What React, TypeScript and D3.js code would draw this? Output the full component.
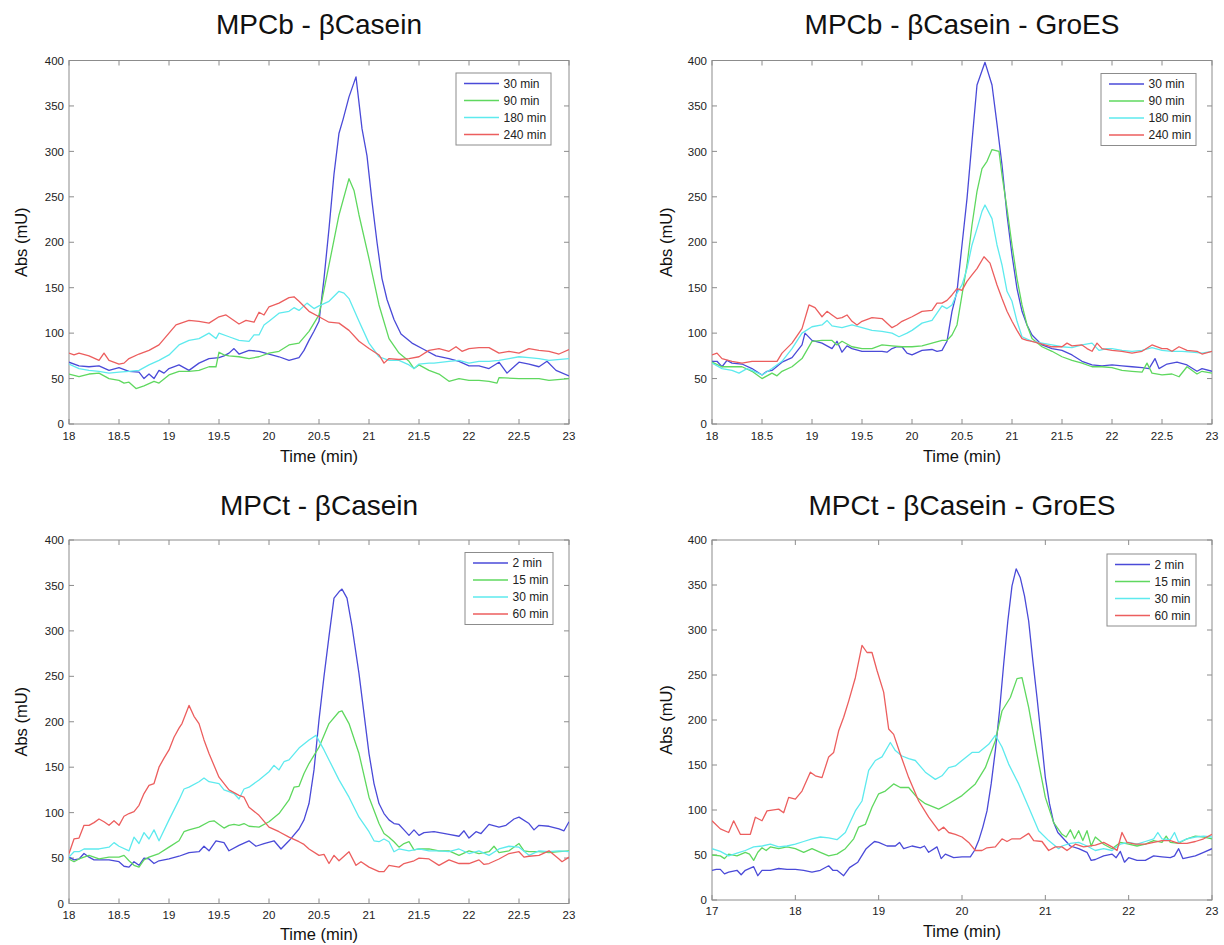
import React from "react";
import * as d3 from "d3";

type Pt = [number, number];

// ---------- text / categories ----------
const TITLES = [
  "MPCb - βCasein",
  "MPCb - βCasein - GroES",
  "MPCt - βCasein",
  "MPCt - βCasein - GroES",
];
const LEGEND_MPCB = ["30 min", "90 min", "180 min", "240 min"];
const LEGEND_MPCT = ["2 min", "15 min", "30 min", "60 min"];
const X_LABEL = "Time (min)";
const Y_LABEL = "Abs (mU)";
const X_TICKS_HALF = [18, 18.5, 19, 19.5, 20, 20.5, 21, 21.5, 22, 22.5, 23];
const X_TICKS_INT = [17, 18, 19, 20, 21, 22, 23];
const Y_TICKS = [0, 50, 100, 150, 200, 250, 300, 350, 400];
const X_DOMAIN_A: [number, number] = [18, 23];
const X_DOMAIN_B: [number, number] = [17, 23];
const Y_DOMAIN: [number, number] = [0, 400];

// ---------- Panel 1: MPCb - βCasein ----------
const P1_30MIN: Pt[] = [[18.0,68],[18.1,64],[18.2,63],[18.3,64],[18.4,59],[18.5,62],[18.6,58],[18.7,57],[18.75,50],[18.8,55],[18.85,50],[18.9,59],[18.95,56],[19.0,61],[19.1,65],[19.2,59],[19.3,67],[19.4,72],[19.5,73],[19.55,75],[19.6,78],[19.65,83],[19.7,77],[19.8,81],[19.9,80],[20.0,77],[20.1,74],[20.2,70],[20.3,73],[20.35,81],[20.4,92],[20.45,102],[20.5,113],[20.55,160],[20.6,215],[20.65,275],[20.7,320],[20.74,335],[20.8,360],[20.87,382],[20.93,325],[20.98,295],[21.03,245],[21.08,200],[21.13,160],[21.18,137],[21.25,115],[21.32,99],[21.43,89],[21.55,82],[21.67,75],[21.8,72],[21.9,69],[22.0,64],[22.1,64],[22.2,61],[22.3,68],[22.38,56],[22.5,68],[22.6,66],[22.7,63],[22.78,69],[22.87,59],[23.0,53]];
const P1_90MIN: Pt[] = [[18.0,55],[18.1,52],[18.2,55],[18.3,56],[18.4,50],[18.5,48],[18.55,45],[18.6,46],[18.67,39],[18.75,42],[18.85,47],[18.9,45],[19.0,54],[19.1,58],[19.2,58],[19.3,59],[19.4,63],[19.47,63],[19.5,79],[19.55,76],[19.6,75],[19.7,74],[19.8,72],[19.9,74],[20.0,78],[20.1,80],[20.2,87],[20.3,89],[20.4,102],[20.5,120],[20.6,175],[20.7,230],[20.8,270],[20.85,257],[20.9,230],[21.0,182],[21.1,131],[21.2,94],[21.3,78],[21.4,69],[21.45,61],[21.5,65],[21.6,59],[21.7,55],[21.8,47],[21.9,50],[22.0,48],[22.1,48],[22.2,47],[22.28,45],[22.3,51],[22.5,50],[22.7,50],[22.8,48],[23.0,50]];
const P1_180MIN: Pt[] = [[18.0,66],[18.1,61],[18.2,59],[18.3,58],[18.4,56],[18.5,57],[18.6,58],[18.7,59],[18.8,65],[18.9,70],[19.0,76],[19.1,87],[19.2,92],[19.3,94],[19.4,100],[19.47,94],[19.5,100],[19.6,96],[19.7,92],[19.8,91],[19.85,98],[19.9,98],[19.95,109],[20.0,113],[20.1,122],[20.2,124],[20.25,128],[20.3,125],[20.38,133],[20.45,127],[20.5,130],[20.6,135],[20.7,146],[20.75,144],[20.8,138],[20.9,113],[21.0,89],[21.1,74],[21.2,70],[21.3,70],[21.4,65],[21.45,61],[21.5,66],[21.6,67],[21.65,67],[21.8,69],[21.9,70],[22.0,67],[22.1,69],[22.2,69],[22.3,70],[22.4,72],[22.5,74],[22.6,73],[22.7,72],[22.8,70],[23.0,72]];
const P1_240MIN: Pt[] = [[18.0,78],[18.05,76],[18.1,78],[18.2,75],[18.3,70],[18.35,78],[18.4,70],[18.5,66],[18.55,67],[18.6,72],[18.7,77],[18.8,81],[18.9,87],[19.0,100],[19.07,109],[19.2,114],[19.3,113],[19.4,111],[19.5,118],[19.57,120],[19.7,110],[19.77,114],[19.85,112],[19.9,123],[19.95,120],[20.0,129],[20.1,133],[20.2,139],[20.25,140],[20.3,135],[20.4,124],[20.5,118],[20.6,112],[20.7,111],[20.8,103],[20.9,91],[21.0,83],[21.1,76],[21.15,67],[21.2,72],[21.3,71],[21.4,72],[21.5,74],[21.6,81],[21.7,83],[21.8,80],[21.87,85],[21.93,80],[22.0,83],[22.1,84],[22.2,84],[22.3,78],[22.4,80],[22.5,78],[22.6,83],[22.7,81],[22.8,80],[22.9,77],[23.0,82]];

// ---------- Panel 2: MPCb - βCasein - GroES ----------
const P2_30MIN: Pt[] = [[18.0,69],[18.05,69],[18.1,63],[18.15,70],[18.2,67],[18.3,66],[18.4,61],[18.5,54],[18.55,58],[18.6,59],[18.7,68],[18.8,73],[18.9,87],[18.93,100],[19.0,92],[19.1,89],[19.2,83],[19.25,91],[19.3,79],[19.35,86],[19.4,83],[19.5,80],[19.6,80],[19.7,80],[19.75,79],[19.8,83],[19.85,85],[19.9,85],[19.95,78],[20.0,76],[20.1,81],[20.2,82],[20.25,80],[20.3,81],[20.35,91],[20.4,124],[20.45,146],[20.5,197],[20.55,248],[20.6,311],[20.65,373],[20.73,398],[20.8,373],[20.85,330],[20.9,285],[20.95,230],[21.0,186],[21.05,149],[21.1,124],[21.15,109],[21.2,98],[21.3,87],[21.4,83],[21.5,81],[21.6,76],[21.7,69],[21.8,65],[21.9,64],[22.0,65],[22.1,64],[22.2,63],[22.3,62],[22.37,61],[22.43,72],[22.47,61],[22.55,66],[22.65,68],[22.75,65],[22.85,58],[22.9,61],[23.0,58]];
const P2_90MIN: Pt[] = [[18.0,68],[18.1,63],[18.2,63],[18.3,63],[18.4,58],[18.5,50],[18.6,56],[18.65,53],[18.7,58],[18.8,63],[18.9,72],[19.0,91],[19.1,92],[19.2,92],[19.25,87],[19.3,91],[19.4,85],[19.5,83],[19.6,83],[19.7,87],[19.8,86],[19.9,85],[20.0,85],[20.1,86],[20.2,89],[20.3,92],[20.35,92],[20.4,98],[20.45,109],[20.5,142],[20.55,175],[20.6,219],[20.65,256],[20.7,281],[20.75,289],[20.8,302],[20.87,300],[20.9,274],[20.95,237],[21.0,197],[21.05,160],[21.1,131],[21.15,109],[21.2,94],[21.3,85],[21.4,80],[21.5,74],[21.6,70],[21.7,67],[21.8,63],[21.9,63],[22.0,62],[22.1,59],[22.2,58],[22.3,57],[22.35,67],[22.4,56],[22.5,54],[22.6,55],[22.67,52],[22.75,63],[22.85,55],[22.9,58],[23.0,56]];
const P2_180MIN: Pt[] = [[18.0,67],[18.1,61],[18.2,59],[18.27,56],[18.35,61],[18.4,59],[18.5,54],[18.6,61],[18.7,69],[18.8,83],[18.9,100],[19.0,107],[19.1,109],[19.15,114],[19.2,108],[19.3,106],[19.4,109],[19.5,106],[19.6,103],[19.7,102],[19.8,100],[19.87,96],[19.95,100],[20.0,103],[20.1,111],[20.2,114],[20.3,130],[20.35,127],[20.4,131],[20.45,144],[20.5,153],[20.55,171],[20.6,197],[20.65,215],[20.7,234],[20.73,241],[20.8,226],[20.85,197],[20.9,175],[20.95,146],[21.0,135],[21.05,113],[21.1,96],[21.2,91],[21.3,89],[21.4,87],[21.5,85],[21.6,84],[21.7,87],[21.8,89],[21.87,81],[21.95,83],[22.0,83],[22.1,81],[22.2,80],[22.3,81],[22.4,84],[22.5,81],[22.6,80],[22.7,80],[22.8,79],[22.9,78],[23.0,80]];
const P2_240MIN: Pt[] = [[18.0,76],[18.05,78],[18.1,72],[18.2,69],[18.3,67],[18.4,69],[18.5,69],[18.6,69],[18.65,69],[18.7,78],[18.8,89],[18.9,105],[18.97,131],[19.03,128],[19.1,118],[19.15,124],[19.2,120],[19.25,116],[19.3,117],[19.35,120],[19.4,113],[19.45,109],[19.5,113],[19.6,117],[19.7,116],[19.8,106],[19.85,109],[19.9,113],[20.0,118],[20.1,124],[20.2,125],[20.25,133],[20.3,133],[20.35,136],[20.4,142],[20.45,149],[20.5,147],[20.55,157],[20.6,164],[20.65,171],[20.72,184],[20.78,177],[20.85,153],[20.9,138],[20.95,124],[21.0,113],[21.05,103],[21.1,94],[21.15,92],[21.2,91],[21.3,88],[21.4,85],[21.5,85],[21.55,89],[21.6,86],[21.7,87],[21.75,83],[21.8,80],[21.85,89],[21.9,83],[22.0,81],[22.1,80],[22.2,78],[22.3,80],[22.4,87],[22.5,83],[22.55,83],[22.6,80],[22.67,85],[22.75,81],[22.85,80],[22.9,77],[23.0,80]];

// ---------- Panel 3: MPCt - βCasein ----------
const P3_2MIN: Pt[] = [[18.0,51],[18.05,48],[18.1,49],[18.15,55],[18.2,51],[18.25,48],[18.3,48],[18.4,48],[18.5,46],[18.55,41],[18.6,40],[18.65,46],[18.7,42],[18.75,50],[18.8,49],[18.85,44],[18.9,47],[19.0,49],[19.1,52],[19.2,56],[19.3,57],[19.35,63],[19.4,58],[19.47,69],[19.55,67],[19.6,58],[19.7,64],[19.8,69],[19.87,63],[19.95,66],[20.05,69],[20.12,60],[20.2,69],[20.3,82],[20.35,92],[20.4,110],[20.45,147],[20.5,202],[20.55,250],[20.6,294],[20.65,336],[20.7,343],[20.73,346],[20.78,336],[20.83,305],[20.9,253],[20.95,209],[21.0,165],[21.05,132],[21.1,110],[21.15,99],[21.2,92],[21.25,88],[21.3,87],[21.35,81],[21.4,75],[21.45,81],[21.5,75],[21.55,78],[21.65,79],[21.8,76],[21.9,74],[21.95,80],[22.0,72],[22.07,79],[22.12,77],[22.2,87],[22.3,84],[22.37,86],[22.45,93],[22.5,95],[22.6,88],[22.65,81],[22.7,86],[22.8,85],[22.9,82],[22.95,80],[23.0,90]];
const P3_15MIN: Pt[] = [[18.0,49],[18.05,46],[18.1,49],[18.2,53],[18.3,49],[18.4,51],[18.5,51],[18.55,53],[18.6,47],[18.65,42],[18.7,40],[18.75,48],[18.8,51],[18.9,55],[19.0,62],[19.1,69],[19.15,79],[19.2,81],[19.3,84],[19.4,90],[19.45,91],[19.5,87],[19.55,83],[19.6,86],[19.65,87],[19.7,86],[19.75,88],[19.8,85],[19.9,84],[20.0,90],[20.1,99],[20.2,114],[20.25,128],[20.3,129],[20.35,143],[20.4,154],[20.5,172],[20.6,198],[20.7,211],[20.73,212],[20.8,198],[20.9,165],[21.0,117],[21.1,88],[21.15,77],[21.2,73],[21.25,68],[21.3,62],[21.35,66],[21.4,68],[21.45,59],[21.5,60],[21.6,60],[21.7,58],[21.8,58],[21.9,53],[22.0,58],[22.1,55],[22.2,57],[22.25,63],[22.3,56],[22.4,58],[22.5,66],[22.55,58],[22.6,57],[22.7,57],[22.8,56],[22.9,57],[23.0,58]];
const P3_30MIN: Pt[] = [[18.0,51],[18.05,57],[18.1,57],[18.15,60],[18.3,60],[18.4,62],[18.45,67],[18.5,63],[18.6,58],[18.65,73],[18.7,66],[18.75,78],[18.8,71],[18.85,81],[18.9,69],[19.0,92],[19.1,114],[19.15,126],[19.2,128],[19.3,134],[19.35,138],[19.4,134],[19.5,132],[19.55,125],[19.6,123],[19.65,121],[19.7,115],[19.75,126],[19.8,128],[19.9,136],[20.0,145],[20.05,152],[20.1,147],[20.15,156],[20.2,158],[20.3,171],[20.4,180],[20.47,185],[20.55,169],[20.6,158],[20.7,136],[20.8,117],[20.9,95],[21.0,79],[21.05,69],[21.1,68],[21.15,71],[21.2,68],[21.25,57],[21.3,60],[21.4,58],[21.5,60],[21.6,58],[21.7,58],[21.8,57],[21.9,60],[22.0,55],[22.1,58],[22.2,53],[22.3,60],[22.4,63],[22.5,62],[22.6,53],[22.7,58],[22.8,57],[22.9,58],[23.0,57]];
const P3_60MIN: Pt[] = [[18.0,55],[18.05,71],[18.1,72],[18.15,86],[18.2,86],[18.25,89],[18.3,93],[18.35,90],[18.4,86],[18.45,91],[18.5,86],[18.55,96],[18.6,99],[18.65,101],[18.7,108],[18.75,121],[18.8,130],[18.85,132],[18.9,150],[18.95,160],[19.0,169],[19.05,183],[19.1,193],[19.13,198],[19.2,218],[19.25,206],[19.3,198],[19.35,180],[19.4,165],[19.5,139],[19.6,125],[19.7,119],[19.75,117],[19.8,106],[19.9,97],[20.0,84],[20.1,79],[20.2,73],[20.3,68],[20.35,65],[20.4,60],[20.5,53],[20.55,54],[20.6,44],[20.65,53],[20.7,47],[20.8,57],[20.87,42],[20.92,46],[21.0,40],[21.1,35],[21.15,35],[21.2,42],[21.3,40],[21.35,44],[21.45,47],[21.5,50],[21.6,49],[21.7,42],[21.8,48],[21.9,44],[22.0,44],[22.1,48],[22.15,43],[22.2,44],[22.3,49],[22.4,55],[22.5,57],[22.55,51],[22.6,52],[22.7,53],[22.8,58],[22.9,49],[22.93,46],[23.0,51]];

// ---------- Panel 4: MPCt - βCasein - GroES ----------
const P4_2MIN: Pt[] = [[17.0,33],[17.05,34],[17.1,34],[17.15,29],[17.2,31],[17.3,33],[17.35,28],[17.4,33],[17.5,37],[17.55,27],[17.6,33],[17.7,33],[17.8,35],[17.9,34],[18.0,34],[18.1,33],[18.2,31],[18.3,33],[18.4,38],[18.45,33],[18.5,33],[18.58,27],[18.65,36],[18.75,42],[18.85,57],[18.9,61],[18.95,65],[19.0,64],[19.1,60],[19.2,60],[19.25,64],[19.3,57],[19.4,60],[19.5,58],[19.55,60],[19.6,53],[19.7,59],[19.75,46],[19.8,51],[19.9,47],[20.0,48],[20.1,48],[20.15,55],[20.2,66],[20.25,81],[20.3,99],[20.35,129],[20.4,166],[20.45,210],[20.5,262],[20.55,310],[20.6,349],[20.65,368],[20.7,358],[20.75,338],[20.8,310],[20.85,266],[20.9,225],[20.95,181],[21.0,136],[21.05,107],[21.1,86],[21.15,75],[21.2,70],[21.3,60],[21.4,57],[21.5,53],[21.55,44],[21.6,45],[21.7,49],[21.8,51],[21.85,47],[21.9,54],[21.95,42],[22.0,47],[22.1,44],[22.2,44],[22.3,49],[22.4,48],[22.5,47],[22.55,49],[22.6,57],[22.65,46],[22.8,49],[22.9,53],[23.0,57]];
const P4_15MIN: Pt[] = [[17.0,50],[17.1,49],[17.15,46],[17.2,51],[17.3,49],[17.4,53],[17.45,51],[17.5,44],[17.55,53],[17.6,58],[17.65,55],[17.7,59],[17.8,57],[17.9,59],[18.0,57],[18.1,53],[18.2,57],[18.3,53],[18.4,49],[18.5,51],[18.6,57],[18.7,68],[18.76,81],[18.84,84],[18.92,103],[19.0,118],[19.08,121],[19.18,129],[19.26,125],[19.36,125],[19.46,114],[19.56,107],[19.72,101],[19.84,107],[20.0,116],[20.16,129],[20.28,147],[20.4,177],[20.48,210],[20.58,225],[20.66,246],[20.72,247],[20.8,214],[20.9,162],[21.0,114],[21.1,86],[21.2,73],[21.25,70],[21.3,78],[21.35,68],[21.4,77],[21.45,66],[21.5,77],[21.55,60],[21.6,70],[21.65,66],[21.7,62],[21.8,57],[21.9,64],[22.0,62],[22.1,60],[22.2,62],[22.3,66],[22.4,64],[22.45,71],[22.5,64],[22.6,63],[22.7,68],[22.8,71],[22.9,70],[23.0,68]];
const P4_30MIN: Pt[] = [[17.0,57],[17.1,54],[17.2,49],[17.3,52],[17.4,55],[17.5,59],[17.6,60],[17.7,62],[17.8,59],[17.9,60],[18.0,62],[18.1,65],[18.2,68],[18.3,70],[18.4,69],[18.5,67],[18.6,75],[18.72,99],[18.8,110],[18.88,144],[18.96,155],[19.04,159],[19.14,175],[19.2,166],[19.28,160],[19.36,157],[19.44,155],[19.56,142],[19.68,134],[19.76,138],[19.84,147],[19.92,149],[20.0,155],[20.12,164],[20.2,164],[20.32,173],[20.4,183],[20.48,170],[20.56,151],[20.68,129],[20.8,103],[20.92,77],[21.04,66],[21.16,57],[21.2,60],[21.3,63],[21.4,64],[21.5,60],[21.6,55],[21.7,57],[21.8,55],[21.9,62],[22.0,64],[22.1,62],[22.2,65],[22.3,68],[22.35,75],[22.4,68],[22.5,67],[22.55,75],[22.6,64],[22.7,68],[22.8,70],[22.9,71],[23.0,70]];
const P4_60MIN: Pt[] = [[17.0,88],[17.1,79],[17.2,75],[17.26,88],[17.34,73],[17.46,73],[17.52,92],[17.6,88],[17.66,99],[17.8,101],[17.86,97],[17.92,114],[18.0,112],[18.08,121],[18.18,142],[18.24,138],[18.32,136],[18.4,159],[18.46,164],[18.52,188],[18.58,203],[18.64,221],[18.72,247],[18.8,283],[18.86,275],[18.92,275],[18.98,255],[19.06,231],[19.12,190],[19.18,184],[19.26,162],[19.36,136],[19.48,110],[19.6,92],[19.72,77],[19.78,81],[19.84,75],[19.92,73],[20.0,70],[20.08,64],[20.16,55],[20.24,55],[20.3,58],[20.4,59],[20.48,68],[20.54,65],[20.6,68],[20.7,68],[20.8,74],[20.86,66],[20.96,65],[21.04,55],[21.12,59],[21.2,59],[21.26,55],[21.36,62],[21.46,59],[21.6,61],[21.7,64],[21.8,59],[21.86,55],[21.92,75],[21.98,64],[22.08,62],[22.2,62],[22.3,64],[22.4,66],[22.5,66],[22.6,63],[22.7,63],[22.8,65],[22.9,68],[23.0,73]];

// ---------- styles & layout ----------
const SERIES_COLORS = ["#4a4ad8", "#5fd85f", "#5eeaee", "#ec5e5e"];
const FONT = '"Liberation Sans", Arial, Helvetica, sans-serif';
const FRAME = "#8c8c8c";
const TEXT = "#222222";

interface PanelSpec {
  title: string;
  legend: string[];
  series: Pt[][];
  xDomain: [number, number];
  xTicks: number[];
  left: number; right: number; top: number; bottom: number;
  titleY: number; xLabelY: number; yLabelX: number; xTickY: number;
  legendX: number; legendY: number; legendW: number;
}

const PANELS: PanelSpec[] = [
  { title: TITLES[0], legend: LEGEND_MPCB, series: [P1_30MIN, P1_90MIN, P1_180MIN, P1_240MIN],
    xDomain: X_DOMAIN_A, xTicks: X_TICKS_HALF,
    left: 69, right: 569, top: 60.5, bottom: 424, titleY: 34, xLabelY: 462, yLabelX: 27, xTickY: 439.5,
    legendX: 456, legendY: 73, legendW: 95 },
  { title: TITLES[1], legend: LEGEND_MPCB, series: [P2_30MIN, P2_90MIN, P2_180MIN, P2_240MIN],
    xDomain: X_DOMAIN_A, xTicks: X_TICKS_HALF,
    left: 712, right: 1212, top: 60.5, bottom: 424, titleY: 34, xLabelY: 462, yLabelX: 672, xTickY: 439.5,
    legendX: 1101, legendY: 73.5, legendW: 95 },
  { title: TITLES[2], legend: LEGEND_MPCT, series: [P3_2MIN, P3_15MIN, P3_30MIN, P3_60MIN],
    xDomain: X_DOMAIN_A, xTicks: X_TICKS_HALF,
    left: 69, right: 569, top: 540, bottom: 903.5, titleY: 515, xLabelY: 940, yLabelX: 27, xTickY: 918.5,
    legendX: 465, legendY: 552.5, legendW: 88 },
  { title: TITLES[3], legend: LEGEND_MPCT, series: [P4_2MIN, P4_15MIN, P4_30MIN, P4_60MIN],
    xDomain: X_DOMAIN_B, xTicks: X_TICKS_INT,
    left: 712, right: 1212, top: 540, bottom: 900, titleY: 515, xLabelY: 937, yLabelX: 672, xTickY: 915,
    legendX: 1107, legendY: 554, legendW: 89 },
];

const TICK_LEN = 5;

function Panel({ spec, idx }: { spec: PanelSpec; idx: number }) {
  const x = d3.scaleLinear().domain(spec.xDomain).range([spec.left, spec.right]);
  const y = d3.scaleLinear().domain(Y_DOMAIN).range([spec.bottom, spec.top]);
  const line = d3.line<Pt>().x((d) => x(d[0])).y((d) => y(d[1]));
  const clipId = `clip-${idx}`;
  const cx = (spec.left + spec.right) / 2;
  const cy = (spec.top + spec.bottom) / 2;
  const legendH = 72;
  return (
    <g>
      <defs>
        <clipPath id={clipId}>
          <rect x={spec.left} y={spec.top} width={spec.right - spec.left} height={spec.bottom - spec.top} />
        </clipPath>
      </defs>
      <text x={cx} y={spec.titleY} textAnchor="middle" fontSize={28} fill="#111">{spec.title}</text>
      <rect x={spec.left} y={spec.top} width={spec.right - spec.left} height={spec.bottom - spec.top}
        fill="#fff" stroke={FRAME} strokeWidth={1} />
      {Y_TICKS.map((t) => (
        <g key={`y${t}`}>
          <line x1={spec.left} x2={spec.left + TICK_LEN} y1={y(t)} y2={y(t)} stroke={FRAME} />
          <line x1={spec.right} x2={spec.right - TICK_LEN} y1={y(t)} y2={y(t)} stroke={FRAME} />
          <text x={spec.left - 5} y={y(t)} dy="0.36em" textAnchor="end" fontSize={11.5} fill={TEXT}>{t}</text>
        </g>
      ))}
      {spec.xTicks.map((t) => (
        <g key={`x${t}`}>
          <line x1={x(t)} x2={x(t)} y1={spec.bottom} y2={spec.bottom - TICK_LEN} stroke={FRAME} />
          <line x1={x(t)} x2={x(t)} y1={spec.top} y2={spec.top + TICK_LEN} stroke={FRAME} />
          <text x={x(t)} y={spec.xTickY} textAnchor="middle" fontSize={11.5} fill={TEXT}>{t}</text>
        </g>
      ))}
      <g clipPath={`url(#${clipId})`}>
        {spec.series.map((s, i) => (
          <path key={i} d={line(s) || ""} fill="none" stroke={SERIES_COLORS[i]} strokeWidth={1.3}
            strokeLinejoin="round" />
        ))}
      </g>
      <text x={cx} y={spec.xLabelY} textAnchor="middle" fontSize={16.5} fill="#111">{X_LABEL}</text>
      <text transform={`translate(${spec.yLabelX},${cy}) rotate(-90)`} textAnchor="middle" fontSize={16.5}
        fill="#111">{Y_LABEL}</text>
      <g>
        <rect x={spec.legendX} y={spec.legendY} width={spec.legendW} height={legendH} fill="#fff"
          stroke={FRAME} strokeWidth={1} />
        {spec.legend.map((name, i) => {
          const ry = spec.legendY + 10.5 + i * 17;
          return (
            <g key={name}>
              <line x1={spec.legendX + 8} x2={spec.legendX + 43} y1={ry} y2={ry} stroke={SERIES_COLORS[i]}
                strokeWidth={1.3} />
              <text x={spec.legendX + 47.5} y={ry} dy="0.36em" fontSize={12} fill={TEXT}>{name}</text>
            </g>
          );
        })}
      </g>
    </g>
  );
}

export default function App() {
  return (
    <svg width={1224} height={945} viewBox="0 0 1224 945"
      style={{ position: "absolute", left: 0, top: 0, background: "#fff", display: "block" }}
      fontFamily={FONT}>
      <rect x={0} y={0} width={1224} height={945} fill="#fff" />
      {PANELS.map((p, i) => <Panel key={i} spec={p} idx={i} />)}
    </svg>
  );
}
